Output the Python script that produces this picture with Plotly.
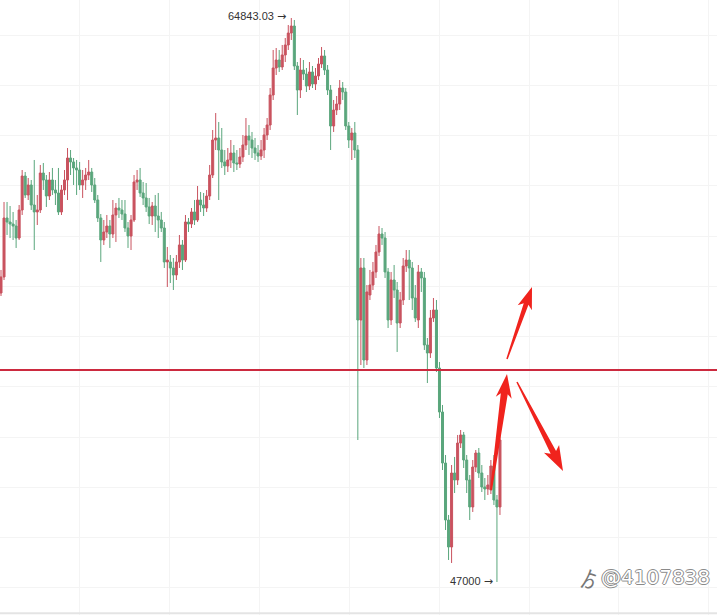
import math
import plotly.graph_objects as go

# ---------------- data (prices) ----------------
open_ = [
    56143, 56650, 58516, 58389, 58325, 58262, 57883, 58769, 59844, 59244,
    59560, 58927, 58706, 58769, 59939, 59718, 59212, 59718, 59402, 59307,
    58706, 59402, 59718, 60414, 60288, 60098, 60034, 59560, 59718, 59876,
    59971, 59560, 59085, 58516, 57820, 58073, 58262, 58009, 58611, 58832,
    58769, 58642, 58199, 57946, 58452, 59655, 59718, 59307, 59149, 58864,
    58579, 58895, 58579, 58452, 58199, 57124, 57124, 56934, 56713, 57124,
    57662, 57187, 58389, 58325, 58706, 58452, 59085, 58927, 58832, 59212,
    59876, 60983, 61047, 60667, 60288, 60161, 60351, 60572, 60256, 60224,
    60446, 60825, 61110, 60983, 60730, 60572, 60477, 60667, 61142, 61458,
    62407, 63261, 63514, 63293, 63673, 63989, 64368, 64590, 63324, 62565,
    63198, 63071, 62691, 63135, 62754, 63008, 63387, 63641, 63198, 62565,
    61426, 61932, 62122, 62628, 62502, 61426, 60983, 61205, 60667, 55289,
    56934, 54023, 56080, 56396, 56808, 57440, 58009, 57883, 56808, 55289,
    56554, 56238, 55194, 55921, 56997, 57187, 56934, 55985, 55289, 56808,
    56618, 54498, 54245, 55352, 55605, 53770, 52378, 50764, 48961, 48107,
    50448, 50227, 51397, 51651, 50859, 50227, 49373, 50638, 51081, 50448,
    50006, 49942, 49910, 50669, 49594, 49373]

close = [
    56650, 58516, 58389, 58325, 58262, 57883, 58769, 59844, 59244, 59560,
    58927, 58706, 58769, 59939, 59718, 59212, 59718, 59402, 59307, 58706,
    59402, 59718, 60414, 60288, 60098, 60034, 59560, 59718, 59876, 59971,
    59560, 59085, 58516, 57820, 58073, 58262, 58009, 58611, 58832, 58769,
    58642, 58199, 57946, 58452, 59655, 59718, 59307, 59149, 58864, 58579,
    58895, 58579, 58452, 58199, 57124, 57187, 56934, 56713, 57124, 57662,
    57187, 58389, 58325, 58706, 58452, 59085, 58927, 58832, 59212, 59876,
    60983, 61047, 60667, 60288, 60161, 60351, 60572, 60256, 60224, 60446,
    60825, 61110, 60983, 60730, 60572, 60477, 60667, 61142, 61458, 62407,
    63261, 63514, 63293, 63673, 63989, 64368, 64590, 63324, 62565, 63198,
    63071, 62691, 63135, 62754, 63008, 63387, 63641, 63198, 62565, 61426,
    61932, 62122, 62628, 62502, 61426, 60983, 61205, 60667, 55289, 56934,
    54023, 56175, 56396, 56808, 57440, 58009, 57883, 56808, 55289, 56554,
    56238, 55194, 55921, 56997, 57187, 56934, 55985, 55352, 56808, 56618,
    54498, 54245, 55352, 55605, 53770, 52378, 50764, 48961, 48107, 50448,
    50227, 51397, 51651, 50859, 50227, 49373, 50638, 51081, 50448, 50006,
    49942, 50069, 50669, 49594, 49373, 51492]

high = [
    56871, 59022, 59022, 58895, 58706, 58452, 58927, 60034, 59971, 59781,
    59718, 60351, 59244, 60193, 60256, 59876, 59971, 60098, 59718, 60098,
    59560, 60034, 60730, 60667, 60414, 60351, 60288, 60034, 60098, 60351,
    60098, 59781, 59244, 58642, 58452, 58611, 58452, 59085, 58990, 59149,
    59085, 59085, 58389, 58611, 59876, 60034, 60098, 59655, 59623, 59149,
    59022, 59244, 59307, 58706, 58389, 57599, 57345, 57250, 57345, 57978,
    57820, 58611, 58516, 58832, 59085, 59528, 59339, 59307, 59402, 60193,
    61300, 61837, 61553, 61363, 60667, 60730, 60983, 60825, 60667, 60730,
    61142, 61679, 61458, 61237, 61047, 60825, 60983, 61363, 61679, 62628,
    63831, 63894, 63831, 63989, 64210, 64622, 64843.03, 64780, 63451, 63578,
    63514, 63261, 63451, 63324, 63261, 63578, 63926, 63831, 63356, 62723,
    62249, 62375, 62881, 62818, 62628, 61553, 61363, 61553, 60825, 57250,
    57250, 56396, 56871, 57124, 57662, 58262, 58199, 58073, 56934, 56808,
    57029, 56491, 56175, 57250, 57503, 57503, 57124, 56396, 57029, 56934,
    56808, 54719, 55605, 55985, 55921, 53960, 52600, 51018, 49120, 50701,
    50955, 51651, 51809, 51746, 51018, 50385, 50859, 51176, 51239, 50701,
    50290, 50385, 50859, 51018, 49752, 51651]

low = [
    56048, 56554, 57978, 57883, 57820, 57567, 57820, 58611, 59149, 59085,
    58769, 57503, 58294, 58674, 59402, 58864, 59085, 59244, 58927, 58611,
    58611, 59244, 59085, 59876, 59560, 59244, 59402, 59149, 59402, 59718,
    59339, 58990, 58389, 57124, 57662, 57883, 57567, 57883, 57757, 58516,
    58452, 58073, 57567, 57503, 58389, 59402, 59181, 58927, 58706, 58325,
    58294, 58073, 57883, 58073, 56934, 56333, 56459, 56238, 56554, 56934,
    56871, 57124, 58073, 58199, 58294, 58389, 58706, 58579, 58706, 59085,
    59781, 60667, 59085, 60098, 59876, 59971, 60098, 59971, 60034, 60098,
    60288, 60667, 60509, 60414, 60351, 60288, 60351, 60414, 60983, 61300,
    62249, 63040, 63135, 63198, 63451, 63831, 64147, 63198, 61774, 62312,
    62881, 62502, 62565, 62628, 62565, 62881, 63261, 63040, 62407, 60667,
    61237, 61774, 61932, 62249, 61300, 60730, 60351, 60414, 51492, 53865,
    53770, 53865, 55921, 56238, 56618, 57313, 57662, 56618, 55036, 55131,
    55985, 54277, 55036, 55763, 56808, 55921, 55605, 55226, 55036, 56175,
    54340, 53295, 54087, 55226, 53644, 52188, 50543, 48645, 47696, 47601,
    49815, 50069, 51239, 50606, 49815, 48961, 49215, 50480, 50290, 49847,
    49594, 49752, 49783, 49436, 47000, 49120]

candle_index = list(range(len(close)))

HIGH_LABEL = "64843.03"
LOW_LABEL = "47000"
HIGH_VALUE = 64843.03
LOW_VALUE = 47000
LEVEL = 53707          # red horizontal level line
WATERMARK = "@4107838"

# ---------------- styling ----------------
W, H = 717, 615
RED = "#c9535f"
GREEN = "#5aa67c"
ARROW_RED = "#f0231d"

fig = go.Figure(go.Candlestick(
    x=candle_index, open=open_, high=high, low=low, close=close,
    increasing=dict(line=dict(color=RED, width=1), fillcolor=RED),
    decreasing=dict(line=dict(color=GREEN, width=1), fillcolor=GREEN),
    whiskerwidth=0, hoverinfo="skip", showlegend=False,
))

fig.update_layout(
    width=W, height=H, margin=dict(l=0, r=0, t=0, b=0),
    paper_bgcolor="white", plot_bgcolor="white",
    showlegend=False, boxgap=0.05,
    xaxis=dict(range=[-0.33, 236.77], showgrid=True, gridcolor="#f4f4f4",
               tick0=25.8, dtick=29.76, showticklabels=False, ticks="",
               zeroline=False, rangeslider=dict(visible=False), fixedrange=True),
    yaxis=dict(range=[45955.7, 65412.5], showgrid=True, gridcolor="#f4f4f4",
               tick0=64305, dtick=1590, showticklabels=False, ticks="",
               zeroline=False, fixedrange=True),
)

# level line
fig.add_shape(type="line", xref="paper", x0=0, x1=1, yref="y", y0=LEVEL, y1=LEVEL,
              line=dict(color="#cc2a3f", width=2), layer="above")
# faint bottom border
fig.add_shape(type="line", xref="paper", x0=0, x1=1, yref="paper", y0=0.003, y1=0.003,
              line=dict(color="#e4e4e4", width=2), layer="above")

# high / low labels
ARROW_SPAN = '<span style="font-family:DejaVu Sans">→</span>'
hi_i = high.index(HIGH_VALUE)
lo_i = low.index(LOW_VALUE)
fig.add_annotation(x=hi_i, y=HIGH_VALUE, text=HIGH_LABEL + " " + ARROW_SPAN, showarrow=False,
                   xanchor="right", yanchor="middle", xshift=-3, yshift=2,
                   font=dict(family="Liberation Sans, Arial", size=11, color="#333333"))
fig.add_annotation(x=lo_i, y=LOW_VALUE, text=LOW_LABEL + " " + ARROW_SPAN, showarrow=False,
                   xanchor="right", yanchor="middle", xshift=-2,
                   font=dict(family="Liberation Sans, Arial", size=11, color="#333333"))

# watermark
fig.add_annotation(xref="paper", yref="paper", x=0.993, y=1 - 577 / H, text=WATERMARK,
                   showarrow=False, xanchor="right", yanchor="middle",
                   font=dict(family="DejaVu Sans", size=20, color="white",
                             shadow="1px 0 0 #8a8a8a, -1px 0 0 #8a8a8a, 0 1px 0 #8a8a8a, 0 -1px 0 #8a8a8a"))
fig.add_annotation(xref="paper", yref="paper", x=589 / W, y=1 - 578 / H, text="ゟ",
                   showarrow=False, xanchor="center", yanchor="middle",
                   font=dict(family="Noto Sans CJK SC", size=20, color="#777777"))


# hand-drawn style red arrows (decoration), given in pixel space
def arrow_path(tail, tip, w_tail, w_shaft, head_w, head_len, barb_back=4):
    dx, dy = tip[0] - tail[0], tip[1] - tail[1]
    L = math.hypot(dx, dy)
    ux, uy = dx / L, dy / L
    nx, ny = -uy, ux
    bx, by = tip[0] - ux * head_len, tip[1] - uy * head_len
    cx, cy = bx - ux * barb_back, by - uy * barb_back
    pts = [
        (tail[0] + nx * w_tail / 2, tail[1] + ny * w_tail / 2),
        (bx + nx * w_shaft / 2, by + ny * w_shaft / 2),
        (cx + nx * head_w / 2, cy + ny * head_w / 2),
        tip,
        (cx - nx * head_w / 2, cy - ny * head_w / 2),
        (bx - nx * w_shaft / 2, by - ny * w_shaft / 2),
        (tail[0] - nx * w_tail / 2, tail[1] - ny * w_tail / 2),
    ]
    s = "M " + " L ".join(f"{x / W:.5f},{1 - y / H:.5f}" for x, y in pts) + " Z"
    return s


arrows = [
    ((507, 359), (532, 287), 1.5, 5, 15, 18),
    ((491, 490), (507, 374), 2.0, 7, 16, 20),
    ((517, 382), (563, 471), 1.5, 6, 17, 21),
]
for tail, tip, wt, ws, hw, hl in arrows:
    fig.add_shape(type="path", xref="paper", yref="paper",
                  path=arrow_path(tail, tip, wt, ws, hw, hl),
                  fillcolor=ARROW_RED, line=dict(width=0), layer="above")

fig.write_html("out.html", config={"displayModeBar": False},
               post_script="document.body.style.margin='0';document.body.style.overflow='hidden';")
